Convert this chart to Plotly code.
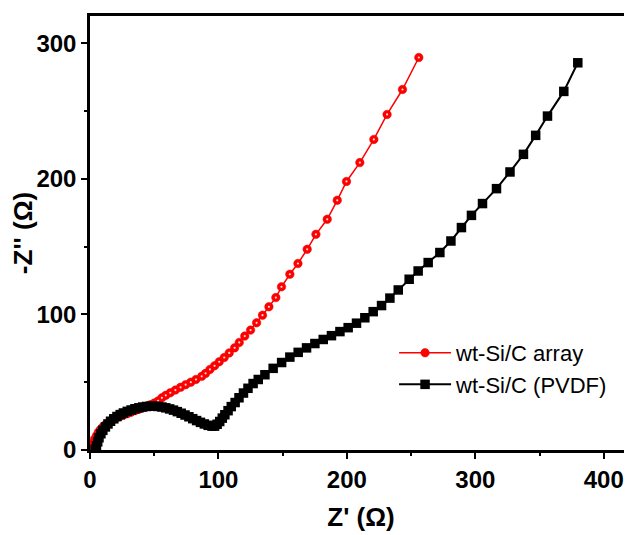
import plotly.graph_objects as go

# wt-Si/C array (red circles)
array_x = [1.5, 2.5, 3.5, 5, 6.5, 8, 10, 12, 14.5, 17, 20, 23, 26, 29, 32, 35, 38, 41, 44, 47,
           50, 53, 56, 59, 62.5, 66.5, 70.5, 74.5, 78.5, 82.5, 87, 90, 93.4, 97, 100.6, 104.5,
           108.4, 112.6, 116.2, 120.5, 125, 129.7, 134.3, 139.3, 144.7, 149.1, 155.6, 161.9,
           169.1, 175.9, 184.7, 192.5, 199.7, 210.1, 221, 231.3, 243.3, 256]
array_y = [2, 5, 8, 10.5, 13, 15, 17, 18.7, 20.3, 21.8, 23.2, 24.5, 25.7, 26.8, 27.9, 29, 30, 31.1,
           32.2, 33.4, 34.6, 36.2, 38.5, 40.3, 42.2, 44.2, 46.2, 48.2, 50, 52, 54.3, 56.5, 59.4,
           62.1, 65, 68.2, 71.6, 75.3, 79.3, 84, 88.4, 93.8, 99.4, 105.6, 112.4, 120.3, 129.6,
           137.5, 148, 159, 170.1, 184.1, 198, 211.9, 229, 247.4, 265.8, 289.4]

# wt-Si/C (PVDF) (black squares)
pvdf_x = [4, 5, 6, 7, 8.5, 10, 12, 14, 16, 18.5, 21, 23.5, 26, 29, 32, 35, 38, 41, 44, 47, 50, 53,
          56, 59, 62, 65, 68, 71, 74, 77, 80, 83, 86, 89, 92, 95, 97, 99, 101, 103, 105, 107.5,
          110, 113, 116, 119.5, 123, 127, 131, 136.2, 142.6, 149.2, 155.6, 162.1, 168.6, 175.1,
          181.6, 188, 194.6, 201, 207.5, 214, 220.5, 227, 233.5, 240, 248.5, 255.5, 263.3,
          272.4, 281, 289.2, 297, 305.6, 316.5, 327, 337.5, 347, 356.2, 368.9, 379.8]
pvdf_y = [0.5, 3, 6, 9, 12, 14.5, 17, 19.2, 21.2, 23, 24.7, 26.1, 27.3, 28.5, 29.5, 30.4, 31.1,
          31.7, 32.1, 32.3, 32.3, 32.1, 31.7, 31.1, 30.3, 29.4, 28.3, 27.1, 25.8, 24.5, 23.1,
          21.7, 20.4, 19.2, 18.2, 17.6, 17.6, 19, 21, 23.5, 26, 29, 32, 35, 38.5, 42, 45.5, 49,
          52, 55.5, 60.2, 64.5, 68.5, 72, 75.3, 78.5, 81.5, 84.3, 87.3, 90.2, 93.5, 97.5, 102,
          106.5, 112, 118, 125.9, 132, 138.2, 145.6, 154.1, 164, 173, 181.7, 192.7, 205, 218,
          232, 246.2, 264.4, 285.5]

x_ticks = [0, 100, 200, 300, 400]
y_ticks = [0, 100, 200, 300]

FONT = "Arial, Liberation Sans, sans-serif"

fig = go.Figure()
fig.add_trace(go.Scatter(
    x=array_x, y=array_y, mode="lines+markers", name="wt-Si/C array",
    line=dict(color="#ff0000", width=1.5),
    marker=dict(symbol="circle", size=8.5, color="#ff0000",
                line=dict(color="#e80000", width=0.5)),
))
fig.add_trace(go.Scatter(
    x=array_x, y=array_y, mode="markers", showlegend=False, hoverinfo="skip",
    marker=dict(symbol="circle", size=2.2, color="rgba(255,225,225,0.95)"),
))
fig.add_trace(go.Scatter(
    x=pvdf_x, y=pvdf_y, mode="lines+markers", name="wt-Si/C (PVDF)",
    line=dict(color="#000000", width=2),
    marker=dict(symbol="square", size=9.5, color="#000000"),
))

axis_common = dict(
    showline=True, linecolor="black", linewidth=2.5,
    ticks="outside", ticklen=6, tickwidth=2, tickcolor="black",
    showgrid=False, zeroline=False, automargin=False,
    tickfont=dict(family=FONT, size=24, color="black", weight="bold"),
)

fig.update_xaxes(
    range=[0, 422], tickvals=x_ticks, mirror=True,
    minor=dict(dtick=50, ticks="outside", ticklen=3, tickwidth=2, tickcolor="black"),
    title=dict(text="Z' (Ω)", font=dict(family=FONT, size=26, color="black", weight="bold"),
               standoff=17),
    **axis_common,
)
fig.update_yaxes(
    range=[0, 320], tickvals=y_ticks, mirror=False,
    minor=dict(dtick=50, ticks="outside", ticklen=3, tickwidth=2, tickcolor="black"),
    title=dict(text="-Z'' (Ω)", font=dict(family=FONT, size=26, color="black", weight="bold"),
               standoff=3),
    **axis_common,
)

# page body has an 8px default margin; compensate so the plot sits where the reference does
fig.update_layout(
    width=624, height=527,
    margin=dict(l=82, r=0, t=8, b=85),
    paper_bgcolor="white", plot_bgcolor="white",
    legend=dict(x=0.561, y=0.272, xanchor="left", yanchor="top",
                bgcolor="rgba(0,0,0,0)", itemwidth=52, tracegroupgap=0,
                font=dict(family=FONT, size=22, color="black")),
)

fig.write_html("out.html")
